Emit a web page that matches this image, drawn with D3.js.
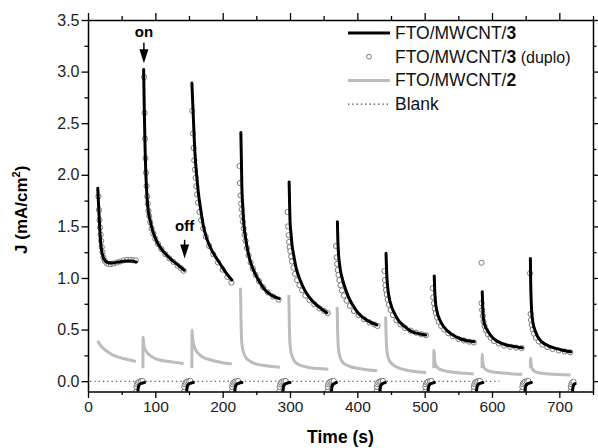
<!DOCTYPE html>
<html lang="en">
<head>
<meta charset="UTF-8">
<title>Photocurrent transients</title>
<style>
  body { margin: 0; background: #fff; }
  text { font-family: "Liberation Sans", Arial, sans-serif; }
</style>
</head>
<body>
<script src="https://d3js.org/d3.v7.min.js"></script>
<script>
// FTO/MWCNT/3 : light-on decays, [time (s), J (mA/cm2)]
const mwcnt3 = [
  [[14.5,1.87],[15.5,1.73],[16.5,1.6],[17.5,1.47],[18.5,1.37],[19.5,1.3],[21,1.24],[23,1.195],[25.5,1.165],[29,1.15],[34,1.145],[40,1.148],[48,1.158],[56,1.165],[64,1.165],[71.5,1.155]],
  [[82.6,3.02],[83.3,2.75],[84,2.5],[84.8,2.25],[85.7,2.05],[86.8,1.88],[88,1.75],[90,1.63],[92.5,1.55],[96,1.46],[101,1.37],[108,1.29],[117,1.22],[125,1.17],[132,1.135],[143,1.075]],
  [[154.3,2.89],[155.5,2.7],[157,2.47],[158.5,2.25],[160,2.1],[162,1.95],[164,1.82],[167,1.68],[171.5,1.5],[176,1.39],[181.5,1.3],[188,1.22],[196,1.14],[204,1.06],[213.6,0.98]],
  [[227,2.41],[227.8,2.15],[228.5,1.885],[229.8,1.7],[231,1.56],[234,1.39],[238,1.24],[242,1.14],[248,1.045],[255,0.96],[263,0.884],[272,0.835],[284,0.8]],
  [[298.7,1.93],[299.3,1.75],[300,1.56],[301.5,1.43],[303,1.32],[305,1.24],[309,1.1],[315,0.98],[322,0.88],[332,0.787],[343,0.72],[354.6,0.664]],
  [[370.4,1.545],[371,1.38],[372,1.24],[373.5,1.14],[375,1.07],[377,1.01],[381,0.92],[386.6,0.82],[393,0.74],[401.5,0.658],[410,0.61],[420,0.57],[429,0.545]],
  [[442.6,1.24],[443.5,1.06],[445,0.916],[447,0.82],[451,0.72],[455,0.66],[461,0.59],[470,0.53],[480.7,0.48],[491,0.46],[501.5,0.448]],
  [[514.2,1.02],[515,0.87],[516.3,0.755],[518.5,0.67],[522.7,0.59],[528,0.53],[535,0.48],[545,0.435],[555,0.406],[565,0.39],[573.6,0.383]],
  [[585.5,0.867],[586.2,0.72],[587,0.625],[589,0.55],[594.4,0.48],[601,0.42],[609,0.383],[619,0.355],[629,0.34],[638,0.33],[645,0.325]],
  [[657,1.19],[657.5,0.95],[658.2,0.78],[658.8,0.69],[660.5,0.58],[663.7,0.496],[668,0.43],[673.6,0.383],[683,0.345],[693.3,0.32],[705,0.3],[717,0.286]]
];

// FTO/MWCNT/3 : dark-period recovery (mostly below the axis)
const mwcnt3Dark = [
  [[74,-0.12],[74.5,-0.07],[75.5,-0.042],[77,-0.03],[80,-0.02],[84,-0.013]],
  [[146.5,-0.12],[147,-0.07],[148,-0.042],[149.5,-0.03],[152.5,-0.02],[156.5,-0.013]],
  [[218,-0.12],[218.5,-0.07],[219.5,-0.042],[221,-0.03],[224,-0.02],[228.5,-0.013]],
  [[289.5,-0.12],[290,-0.07],[291,-0.042],[292.5,-0.03],[295.5,-0.02],[300,-0.013]],
  [[361.5,-0.12],[362,-0.07],[363,-0.042],[364.5,-0.03],[366.5,-0.02],[369,-0.013]],
  [[433.5,-0.12],[434,-0.07],[435,-0.042],[436.5,-0.03],[438.5,-0.02],[441.5,-0.013]],
  [[505,-0.12],[505.5,-0.07],[506.5,-0.042],[508,-0.03],[511,-0.02],[514.5,-0.013]],
  [[577,-0.12],[577.5,-0.07],[578.5,-0.042],[580,-0.03],[583,-0.02],[586.5,-0.013]],
  [[649,-0.12],[649.5,-0.07],[650.5,-0.042],[652,-0.03],[655,-0.02],[658.5,-0.013]],
  [[719.5,-0.12],[720,-0.07],[721,-0.042],[722,-0.03],[723.5,-0.025]]
];

// FTO/MWCNT/3 (duplo) : open circles
const mwcnt3Duplo = [
  [[15.5,1.79],[16.3,1.66],[17.1,1.56],[17.9,1.49],[18.7,1.42],[19.5,1.36],[20.4,1.3],[21.5,1.25],[23,1.2],[25,1.165],[27.5,1.145],[30.5,1.135],[34,1.135],[38,1.14],[43,1.15],[48,1.16],[53,1.17],[58,1.175],[63,1.175],[67,1.172],[71,1.17]],
  [[83.3,2.945],[84,2.6],[84.7,2.35],[85.4,2.16],[86.2,2.02],[87,1.89],[87.9,1.79],[88.8,1.72],[89.8,1.65],[91,1.6],[92.5,1.54],[94.5,1.48],[97,1.43],[100,1.38],[104,1.33],[109,1.28],[115,1.23],[121,1.19],[127,1.155],[133,1.12],[138,1.095],[142,1.07]],
  [[154.8,2.62],[155.8,2.4],[156.8,2.26],[157.8,2.14],[158.8,2.05],[159.8,1.97],[160.8,1.89],[162,1.81],[163.5,1.73],[165.5,1.64],[168,1.56],[171,1.48],[175,1.4],[180,1.31],[186,1.23],[193,1.15],[200,1.08],[207,1.01],[213,0.955]],
  [[225,2.085],[225.8,1.92],[226.6,1.8],[227.4,1.72],[228.2,1.665],[229,1.6],[230,1.545],[231.2,1.48],[232.5,1.42],[234,1.36],[236,1.29],[238.5,1.22],[241.5,1.15],[245,1.09],[249,1.03],[254,0.97],[260,0.91],[267,0.86],[275,0.82],[283,0.79]],
  [[296.5,1.64],[297.2,1.5],[297.9,1.415],[298.7,1.35],[299.5,1.3],[300.5,1.26],[301.7,1.21],[303,1.16],[305,1.1],[307.5,1.04],[310.5,0.98],[314,0.93],[318,0.88],[323,0.83],[329,0.785],[336,0.745],[344,0.705],[351,0.68],[356,0.66]],
  [[368.4,1.31],[369.2,1.2],[370,1.136],[370.9,1.077],[372,1.03],[373.3,0.98],[375,0.93],[377,0.88],[380,0.83],[384,0.78],[389,0.73],[395,0.68],[402,0.64],[410,0.6],[418,0.57],[425,0.55],[430,0.535]],
  [[440.2,1.068],[441,0.98],[441.8,0.93],[442.7,0.884],[443.7,0.84],[445,0.79],[447,0.74],[449.5,0.69],[453,0.64],[458,0.59],[464,0.55],[471,0.515],[479,0.49],[487,0.47],[495,0.455],[502,0.445]],
  [[512,0.9],[512.8,0.813],[513.8,0.755],[515,0.706],[516.5,0.66],[518.5,0.615],[521,0.575],[524.5,0.535],[529,0.5],[535,0.465],[542,0.435],[550,0.41],[558,0.395],[566,0.383],[573,0.375]],
  [[584.5,1.148],[584.6,0.755],[585.4,0.69],[586.3,0.632],[587.5,0.58],[589,0.535],[591,0.495],[594,0.455],[598,0.42],[603,0.39],[610,0.365],[618,0.345],[627,0.333],[636,0.325],[644,0.32]],
  [[656.5,1.045],[657.3,0.651],[658,0.593],[659,0.545],[660.5,0.5],[662.5,0.46],[665.5,0.42],[669.5,0.385],[675,0.355],[682,0.33],[690,0.312],[699,0.298],[708,0.288],[716,0.28]]
];

// FTO/MWCNT/3 (duplo) : dark-period circles
const mwcnt3DuploDark = [
  [[71.5,-0.1],[72.1,-0.055],[72.9,-0.03],[74.1,-0.014],[76,-0.005],[78.5,0],[81,0.002]],
  [[142.5,-0.1],[143.1,-0.055],[143.9,-0.03],[145.1,-0.014],[147,-0.005],[149.5,0],[152,0.002]],
  [[213.5,-0.1],[214.1,-0.055],[214.9,-0.03],[216.1,-0.014],[218,-0.005],[220.5,0],[223,0.002]],
  [[284,-0.1],[284.6,-0.055],[285.4,-0.03],[286.6,-0.014],[288.5,-0.005],[291,0],[293.5,0.002]],
  [[355.5,-0.1],[356.1,-0.055],[356.9,-0.03],[358.1,-0.014],[360,-0.005],[362.5,0],[365,0.002]],
  [[428.5,-0.1],[429.1,-0.055],[429.9,-0.03],[431.1,-0.014],[433,-0.005],[435.5,0],[438,0.002]],
  [[500.5,-0.1],[501.1,-0.055],[501.9,-0.03],[503.1,-0.014],[505,-0.005],[507.5,0],[510,0.002]],
  [[572.5,-0.1],[573.1,-0.055],[573.9,-0.03],[575.1,-0.014],[577,-0.005],[579.5,0],[582,0.002]],
  [[644.5,-0.1],[645.1,-0.055],[645.9,-0.03],[647.1,-0.014],[649,-0.005],[651.5,0],[654,0.002]],
  [[716.5,-0.1],[717.1,-0.055],[717.9,-0.03],[719.1,-0.014],[721,-0.005]]
];

// FTO/MWCNT/2
const mwcnt2 = [
  [[14.5,0.39],[17,0.36],[20,0.335],[24,0.31],[29,0.285],[35,0.26],[42,0.24],[50,0.225],[58,0.21],[65,0.2],[71,0.19]],
  [[81.6,0.125],[81.8,0.425],[82.5,0.37],[83.5,0.33],[85,0.305],[87.5,0.28],[92,0.25],[98,0.225],[106,0.205],[115,0.195],[125,0.185],[134,0.178],[142,0.172]],
  [[154.3,0.125],[154.5,0.496],[155.3,0.42],[156.7,0.365],[158.5,0.325],[161.7,0.285],[166,0.255],[171.5,0.23],[180,0.21],[191,0.19],[202,0.177],[213.6,0.167]],
  [[226.5,0.906],[227.2,0.6],[228,0.42],[229,0.34],[231,0.28],[234,0.235],[238,0.205],[244,0.18],[252,0.163],[262,0.152],[273,0.143],[285,0.135]],
  [[298.3,0.835],[299,0.55],[299.8,0.38],[301,0.3],[303,0.245],[306,0.2],[311,0.168],[318,0.148],[328,0.132],[342,0.122],[357,0.115]],
  [[370,0.72],[370.7,0.5],[371.5,0.35],[373,0.27],[375,0.22],[378,0.185],[383,0.16],[390,0.14],[400,0.125],[414,0.11],[429.5,0.1]],
  [[442,0.625],[442.7,0.45],[443.5,0.33],[445,0.25],[447.5,0.2],[451,0.17],[456,0.145],[463,0.125],[472,0.108],[485,0.093],[502,0.082]],
  [[513.5,0.125],[513.8,0.3],[514.5,0.22],[515.5,0.175],[517.5,0.145],[521,0.12],[527,0.105],[535,0.093],[546,0.083],[560,0.076],[573,0.07]],
  [[585.2,0.125],[585.5,0.26],[586.2,0.19],[587.2,0.15],[589,0.125],[592,0.108],[597,0.095],[604,0.087],[614,0.08],[628,0.073],[645,0.067]],
  [[657,0.125],[657.3,0.222],[658,0.17],[659,0.135],[661,0.108],[665,0.09],[671,0.08],[680,0.073],[692,0.067],[704,0.063],[716.5,0.06]]
];

// Blank
const blank = [[3,0],[611,0]];

const xTicks = [0, 100, 200, 300, 400, 500, 600, 700];
const xMinor = [50, 150, 250, 350, 450, 550, 650, 750];
const yTicks = [0, 0.5, 1.0, 1.5, 2.0, 2.5, 3.0, 3.5];
const yMinor = [0.25, 0.75, 1.25, 1.75, 2.25, 2.75, 3.25];

const annotations = [
  { label: 'on', t: 83, textJ: 3.335, fromJ: 3.28, toJ: 3.08 },
  { label: 'off', t: 143.5, textJ: 1.455, fromJ: 1.37, toJ: 1.19 }
];

const legendItems = [
  { kind: 'black', parts: [['FTO/MWCNT/', 'normal'], ['3', 'bold']] },
  { kind: 'circle', parts: [['FTO/MWCNT/', 'normal'], ['3', 'bold'], [' (duplo)', 'small']] },
  { kind: 'gray', parts: [['FTO/MWCNT/', 'normal'], ['2', 'bold']] },
  { kind: 'dot', parts: [['Blank', 'normal']] }
];

const W = 598, H = 448;
const margin = { top: 20, right: 5, bottom: 56.5, left: 88 };

const svg = d3.select('body').append('svg')
  .attr('width', W).attr('height', H);

const x = d3.scaleLinear().domain([0, 750]).range([margin.left, W - margin.right]);
const y = d3.scaleLinear().domain([-0.1, 3.5]).range([H - margin.bottom, margin.top]);

svg.append('clipPath').attr('id', 'plot')
  .append('rect')
  .attr('x', x(0)).attr('y', y(3.5))
  .attr('width', x(750) - x(0)).attr('height', y(-0.1) - y(3.5));

const plot = svg.append('g').attr('clip-path', 'url(#plot)');

const line = d3.line().x(d => x(d[0])).y(d => y(d[1])).curve(d3.curveMonotoneX);

// Blank dotted line
plot.append('path')
  .datum(blank)
  .attr('d', line)
  .attr('fill', 'none')
  .attr('stroke', '#333')
  .attr('stroke-width', 1.1)
  .attr('stroke-dasharray', '1.3,3');

// FTO/MWCNT/2 gray line
plot.selectAll('.gray')
  .data(mwcnt2)
  .join('path')
  .attr('class', 'gray')
  .attr('d', line)
  .attr('fill', 'none')
  .attr('stroke', '#bcbcbc')
  .attr('stroke-width', 3);

// duplo circles (underneath the black line)
const duploPts = mwcnt3Duplo.flat().concat(mwcnt3DuploDark.flat());
plot.selectAll('.duplo')
  .data(duploPts)
  .join('circle')
  .attr('class', 'duplo')
  .attr('cx', d => x(d[0]))
  .attr('cy', d => y(d[1]))
  .attr('r', 2.6)
  .attr('fill', '#fff')
  .attr('stroke', '#7a7a7a')
  .attr('stroke-width', 1);

// FTO/MWCNT/3 black line
plot.selectAll('.black')
  .data(mwcnt3.concat(mwcnt3Dark))
  .join('path')
  .attr('class', 'black')
  .attr('d', line)
  .attr('fill', 'none')
  .attr('stroke', '#000')
  .attr('stroke-width', 3)
  .attr('stroke-linecap', 'round');

// Axes
function styleAxis(g, size) {
  g.selectAll('.domain').attr('stroke', '#000').attr('stroke-width', 1.5);
  g.selectAll('.tick line').attr('stroke', '#000').attr('stroke-width', 1.3);
  g.selectAll('.tick text')
    .attr('fill', '#222')
    .style('font-family', '"Liberation Sans", Arial, sans-serif')
    .style('font-size', size + 'px');
}

const axisB = svg.append('g').attr('transform', `translate(0,${y(-0.1)})`);
axisB.call(d3.axisBottom(x).tickValues(xTicks).tickSize(6.5).tickSizeOuter(0).tickPadding(3).tickFormat(d3.format('d')));
axisB.append('g').call(d3.axisBottom(x).tickValues(xMinor).tickSize(3.5).tickSizeOuter(0).tickFormat(''))
  .select('.domain').remove();
styleAxis(axisB, 15.5);

const axisT = svg.append('g').attr('transform', `translate(0,${y(3.5)})`);
axisT.call(d3.axisTop(x).tickValues(xTicks).tickSize(7).tickSizeOuter(0).tickFormat(''));
axisT.append('g').call(d3.axisTop(x).tickValues(xMinor).tickSize(4).tickSizeOuter(0).tickFormat(''))
  .select('.domain').remove();
styleAxis(axisT, 15);

const axisL = svg.append('g').attr('transform', `translate(${x(0)},0)`);
axisL.call(d3.axisLeft(y).tickValues(yTicks).tickSize(6.5).tickSizeOuter(0).tickPadding(2).tickFormat(d3.format('.1f')));
axisL.append('g').call(d3.axisLeft(y).tickValues(yMinor).tickSize(3.5).tickSizeOuter(0).tickFormat(''))
  .select('.domain').remove();
styleAxis(axisL, 16);

const axisR = svg.append('g').attr('transform', `translate(${x(750)},0)`);
axisR.call(d3.axisRight(y).tickValues(yTicks).tickSize(6.5).tickSizeOuter(0).tickFormat(''));
axisR.append('g').call(d3.axisRight(y).tickValues(yMinor).tickSize(3.5).tickSizeOuter(0).tickFormat(''))
  .select('.domain').remove();
styleAxis(axisR, 15);

// Axis titles
svg.append('text')
  .attr('x', (x(0) + x(750)) / 2)
  .attr('y', 443)
  .attr('text-anchor', 'middle')
  .style('font-size', '17.5px')
  .style('font-weight', 'bold')
  .text('Time (s)');

const yTitle = svg.append('text')
  .attr('transform', `translate(27,${(y(-0.1) + y(3.5)) / 2 + 4}) rotate(-90)`)
  .attr('text-anchor', 'middle')
  .style('font-size', '17px')
  .style('font-weight', 'bold');
yTitle.append('tspan').text('J (mA/cm');
yTitle.append('tspan').attr('dy', -7).style('font-size', '11px').text('2');
yTitle.append('tspan').attr('dy', 7).text(')');

// on / off annotations
annotations.forEach(a => {
  const ax = x(a.t);
  svg.append('text')
    .attr('x', ax).attr('y', y(a.textJ))
    .attr('text-anchor', 'middle')
    .style('font-size', '15px')
    .style('font-weight', 'bold')
    .text(a.label);
  const y0 = y(a.fromJ), y1 = y(a.toJ);
  const headTop = y1 - 14;
  svg.append('line')
    .attr('x1', ax).attr('x2', ax)
    .attr('y1', y0).attr('y2', headTop + 1)
    .attr('stroke', '#000').attr('stroke-width', 1.5);
  svg.append('path')
    .attr('d', `M${ax - 4.5},${headTop} L${ax + 4.5},${headTop} L${ax},${y1} Z`)
    .attr('fill', '#000');
});

// Legend
const legend = svg.append('g').attr('transform', 'translate(348,33)');
legendItems.forEach((item, i) => {
  const g = legend.append('g').attr('transform', `translate(0,${i * 23.7})`);
  if (item.kind === 'black') {
    g.append('line').attr('x1', 0).attr('x2', 42).attr('stroke', '#000').attr('stroke-width', 3);
  } else if (item.kind === 'gray') {
    g.append('line').attr('x1', 0).attr('x2', 42).attr('stroke', '#bcbcbc').attr('stroke-width', 3);
  } else if (item.kind === 'circle') {
    g.append('circle').attr('cx', 21).attr('cy', 0).attr('r', 2.4)
      .attr('fill', '#fff').attr('stroke', '#7a7a7a').attr('stroke-width', 1);
  } else {
    g.append('line').attr('x1', 0).attr('x2', 42).attr('stroke', '#333')
      .attr('stroke-width', 1.1).attr('stroke-dasharray', '1.3,3');
  }
  const t = g.append('text').attr('x', 47).attr('y', 6).style('font-size', '17.5px').attr('fill', '#111');
  item.parts.forEach(p => {
    const s = t.append('tspan').text(p[0]);
    if (p[1] === 'bold') s.style('font-weight', 'bold');
    if (p[1] === 'small') s.style('font-size', '16px');
  });
});
</script>
</body>
</html>
